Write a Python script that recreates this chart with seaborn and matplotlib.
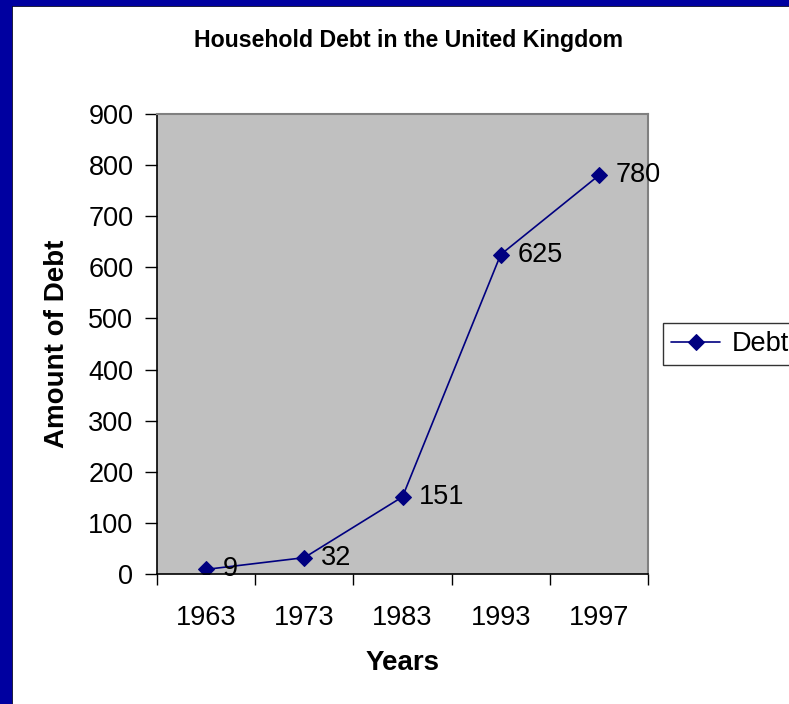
import matplotlib
matplotlib.use("Agg")
import matplotlib.pyplot as plt
import matplotlib.patches as mpatches
import seaborn as sns
import pandas as pd

# data
years = ["1963", "1973", "1983", "1993", "1997"]
debt = [9, 32, 151, 625, 780]

sns.set_style("white")
plt.rcParams['font.family'] = ['Liberation Sans', 'DejaVu Sans']
plt.rcParams['text.color'] = 'black'
plt.rcParams['axes.labelcolor'] = 'black'
plt.rcParams['xtick.color'] = 'black'
plt.rcParams['ytick.color'] = 'black'

df = pd.DataFrame({"Years": years, "Debt": debt})

fig = plt.figure(figsize=(7.89, 7.04), dpi=100)
ax = fig.add_axes([157/789, 1 - 574/704, (648-157)/789, (574-114)/704])
ax.set_facecolor("#C0C0C0")

x = list(range(len(years)))
sns.lineplot(x=x, y=df["Debt"], ax=ax, color="#000080", linewidth=1.2,
             marker="D", markersize=8, markeredgecolor="#000080", label="Debt")
ax.set_xlabel("")
ax.set_ylabel("")

# value labels next to each point
for xi, v in zip(x, debt):
    ax.annotate(str(v), (xi, v), xytext=(12, 0), textcoords="offset points",
                va="center", ha="left", fontsize=19.5, color="black",
                annotation_clip=False)

ax.set_xlim(-0.5, len(years) - 0.5)
ax.set_ylim(0, 900)
ax.set_yticks(range(0, 901, 100))
ax.set_xticks([i - 0.5 for i in range(len(years) + 1)])
ax.set_xticklabels([])
ax.set_xticks(x, minor=True)
ax.set_xticklabels(years, minor=True)
ax.tick_params(axis="x", which="major", bottom=True, length=8, width=1,
               color="black", direction="out")
ax.tick_params(axis="x", which="minor", bottom=True, length=0, pad=22, labelsize=19.5)
ax.tick_params(axis="y", left=True, length=9, width=1, color="black",
               direction="out", labelsize=19.5, pad=8)

for side in ["left", "bottom"]:
    ax.spines[side].set_color("black")
    ax.spines[side].set_linewidth(1.2)
for side in ["top", "right"]:
    ax.spines[side].set_color("#808080")
    ax.spines[side].set_linewidth(1.5)

# axis titles and chart title
fig.text(403/789, 1 - 663/704, "Years", ha="center", va="center",
         fontsize=20, fontweight="bold")
fig.text(57/789, 1 - 344/704, "Amount of Debt", ha="center", va="center",
         rotation=90, fontsize=20, fontweight="bold")
fig.text(409/789, 1 - 40/704, "Household Debt in the United Kingdom",
         ha="center", va="center", fontsize=16.7, fontweight="bold")

leg = ax.legend(loc="upper left", bbox_to_anchor=(663/789, 1 - 323/704),
                bbox_transform=fig.transFigure, fontsize=19.5, frameon=True,
                fancybox=False, handlelength=1.8, handletextpad=0.45,
                borderpad=0.3, borderaxespad=0)
leg.get_frame().set_edgecolor("black")
leg.get_frame().set_linewidth(1)

# blue slide frame on left and top
fig.patches.append(mpatches.Rectangle((0, 0), 11/789, 1, transform=fig.transFigure,
                                      color="#0000A0", zorder=10))
fig.patches.append(mpatches.Rectangle((0, 1 - 5/704), 1, 5/704, transform=fig.transFigure,
                                      color="#0000A0", zorder=10))
fig.add_artist(plt.Line2D([11.5/789, 11.5/789], [0, 1 - 5/704], color="black",
                          linewidth=1.2, transform=fig.transFigure))
fig.add_artist(plt.Line2D([11.5/789, 1], [1 - 5.5/704, 1 - 5.5/704], color="black",
                          linewidth=1.2, transform=fig.transFigure))

fig.savefig("out.png", dpi=100)
